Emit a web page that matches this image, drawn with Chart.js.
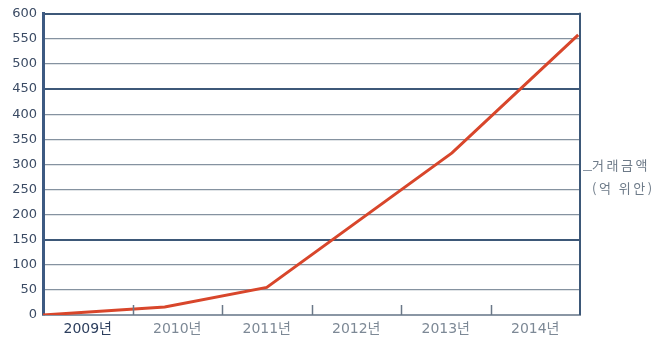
<!DOCTYPE html>
<html>
<head>
<meta charset="utf-8">
<script src="https://cdn.jsdelivr.net/npm/chart.js@4.4.0/dist/chart.umd.min.js"></script>
<style>
  html, body { margin: 0; padding: 0; background: #fff; }
  #wrap { position: relative; width: 658px; height: 344px; }
  .unit { position: absolute; left: 592px; font: 13px 'Noto Sans CJK KR', sans-serif; color: #6d7a88; letter-spacing: 2.5px; }
</style>
</head>
<body>
<div id="wrap">
  <canvas id="c" width="658" height="344"></canvas>
  <div class="unit" style="top:155px">거래금액</div>
  <div class="unit" style="top:178px">(억 위안)</div>
</div>
<script>
// categories under the x axis
const years = ['2009년', '2010년', '2011년', '2012년', '2013년', '2014년']
// where the line bends, in category widths from the left edge
const bendPos = [0, 1.36, 2.5, 4.57, 5.98]
// trade amount (억 위안)
const amounts = [0, 16, 55, 323, 558]
const yTicks = [0, 50, 100, 150, 200, 250, 300, 350, 400, 450, 500, 550, 600]

const dark = '#3d5878'
const grey = '#8592a0'
const font = "'DejaVu Sans', 'Noto Sans CJK KR', sans-serif"

// right border, the little legend dash and the tick marks up from the baseline
const frame = {
    id: 'frame',
    afterDatasetsDraw(chart) {
        const ctx = chart.ctx
        const a = chart.chartArea
        const x = chart.scales.x
        ctx.save()
        ctx.strokeStyle = dark
        ctx.lineWidth = 2
        ctx.beginPath()
        ctx.moveTo(a.right, a.top - 1)
        ctx.lineTo(a.right, a.bottom)
        ctx.stroke()
        ctx.strokeStyle = '#6b7888'
        ctx.lineWidth = 1.5
        for (let i = 1; i < years.length; i++) {
            const px = Math.round(x.getPixelForValue(i)) + 0.5
            ctx.beginPath()
            ctx.moveTo(px, a.bottom - 10)
            ctx.lineTo(px, a.bottom)
            ctx.stroke()
        }
        ctx.strokeStyle = '#8a96a4'
        ctx.lineWidth = 1
        ctx.beginPath()
        ctx.moveTo(a.right + 3, 170.5)
        ctx.lineTo(a.right + 12, 170.5)
        ctx.stroke()
        ctx.restore()
    }
}

new Chart(document.getElementById('c'), {
    type: 'line',
    data: {
        datasets: [{
            data: bendPos.map((p, i) => ({ x: p, y: amounts[i] })),
            borderColor: '#d8462b',
            borderWidth: 3,
            pointRadius: 0,
            tension: 0,
            xAxisID: 'x'
        }]
    },
    options: {
        responsive: false,
        animation: false,
        layout: { padding: { top: 12, right: 78 } },
        plugins: { legend: { display: false }, tooltip: { enabled: false } },
        scales: {
            x: {
                type: 'linear',
                min: 0,
                max: years.length,
                display: false
            },
            x2: {
                type: 'category',
                labels: years,
                offset: true,
                position: 'bottom',
                grid: { display: false, drawTicks: false },
                border: { color: '#8a96a4', width: 2 },
                ticks: {
                    padding: 6,
                    font: { family: font, size: 14 },
                    color: ctx => ctx.index === 0 ? '#2d3f5e' : '#7d8996'
                },
                afterFit(s) { s.height = 29 }
            },
            y: {
                min: 0,
                max: 600,
                afterBuildTicks(s) { s.ticks = yTicks.map(v => ({ value: v })) },
                grid: {
                    drawTicks: false,
                    color: ctx => [150, 450, 600].includes(ctx.tick.value) ? dark : grey,
                    lineWidth: ctx => [150, 450, 600].includes(ctx.tick.value) ? 2 : 1.3
                },
                border: { color: '#3d5a82', width: 3 },
                ticks: {
                    padding: 6,
                    font: { family: font, size: 13 },
                    color: '#3b4b64'
                },
                afterFit(s) { s.width = 43 }
            }
        }
    },
    plugins: [frame]
})
</script>
</body>
</html>
